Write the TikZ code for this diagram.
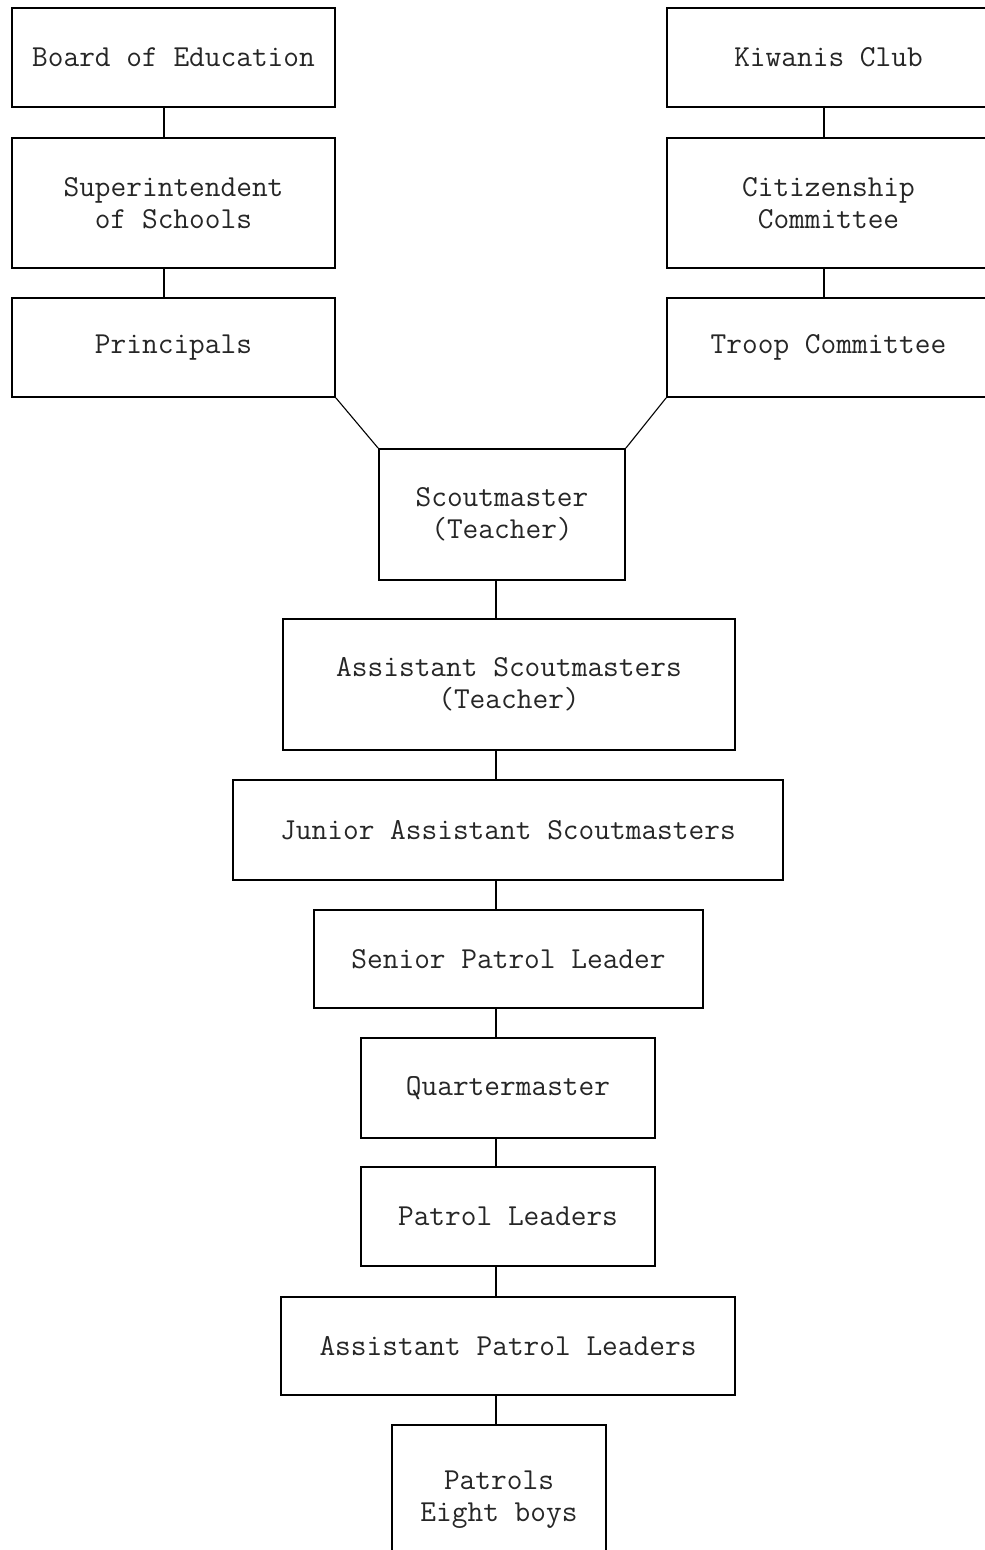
\documentclass[tikz,border=0pt]{standalone}
\usepackage{fontspec}
\usetikzlibrary{positioning}
\tikzset{
  box/.style={draw, line width=1.8pt, rectangle, align=center, inner sep=0pt,
    font=\ttfamily\fontsize{30.5}{32}\selectfont, text=black!85},
  link/.style={line width=1.1pt},
}
\begin{document}
\begin{tikzpicture}[x=1pt,y=-1pt]
\clip (0,0) rectangle (985,1550);
% connector columns
\coordinate (lcol) at (164,0);
\coordinate (rcol) at (824,0);
\coordinate (spine) at (496,0);
% school side
\node[box, minimum width=323, minimum height=99] (boe) at (173.5,57.5) {Board of Education};
\node[box, minimum width=323, minimum height=130] (sup) at (173.5,203) {Superintendent\\of Schools};
\node[box, minimum width=323, minimum height=99] (pr) at (173.5,347.5) {Principals};
% club side
\node[box, minimum width=323, minimum height=99] (kc) at (828.5,57.5) {Kiwanis Club};
\node[box, minimum width=323, minimum height=130] (cc) at (828.5,203) {Citizenship\\Committee};
\node[box, minimum width=323, minimum height=99] (tc) at (828.5,347.5) {Troop Committee};
% troop
\node[box, minimum width=246, minimum height=131] (sm) at (502,514.5) {Scoutmaster\\(Teacher)};
\node[box, minimum width=452, minimum height=131] (asm) at (509,684.5) {Assistant Scoutmasters\\(Teacher)};
\node[box, minimum width=550, minimum height=100] (jasm) at (508,830) {Junior Assistant Scoutmasters};
\node[box, minimum width=389, minimum height=98] (spl) at (508.5,959) {Senior Patrol Leader};
\node[box, minimum width=294, minimum height=100] (qm) at (508,1088) {Quartermaster};
\node[box, minimum width=294, minimum height=99] (pl) at (508,1216.5) {Patrol Leaders};
\node[box, minimum width=454, minimum height=98] (apl) at (508,1346) {Assistant Patrol Leaders};
\node[box, minimum width=214, minimum height=150] (pat) at (499,1500) {Patrols\\Eight boys};
% links
\foreach \a/\b in {boe/sup, sup/pr}
  \draw[link] (\a.south -| lcol) -- (\b.north -| lcol);
\foreach \a/\b in {kc/cc, cc/tc}
  \draw[link] (\a.south -| rcol) -- (\b.north -| rcol);
\draw[link] (pr.south east) -- (sm.north west);
\draw[link] (tc.south west) -- (sm.north east);
\foreach \a/\b in {sm/asm, asm/jasm, jasm/spl, spl/qm, qm/pl, pl/apl, apl/pat}
  \draw[link] (\a.south -| spine) -- (\b.north -| spine);
\end{tikzpicture}
\end{document}
